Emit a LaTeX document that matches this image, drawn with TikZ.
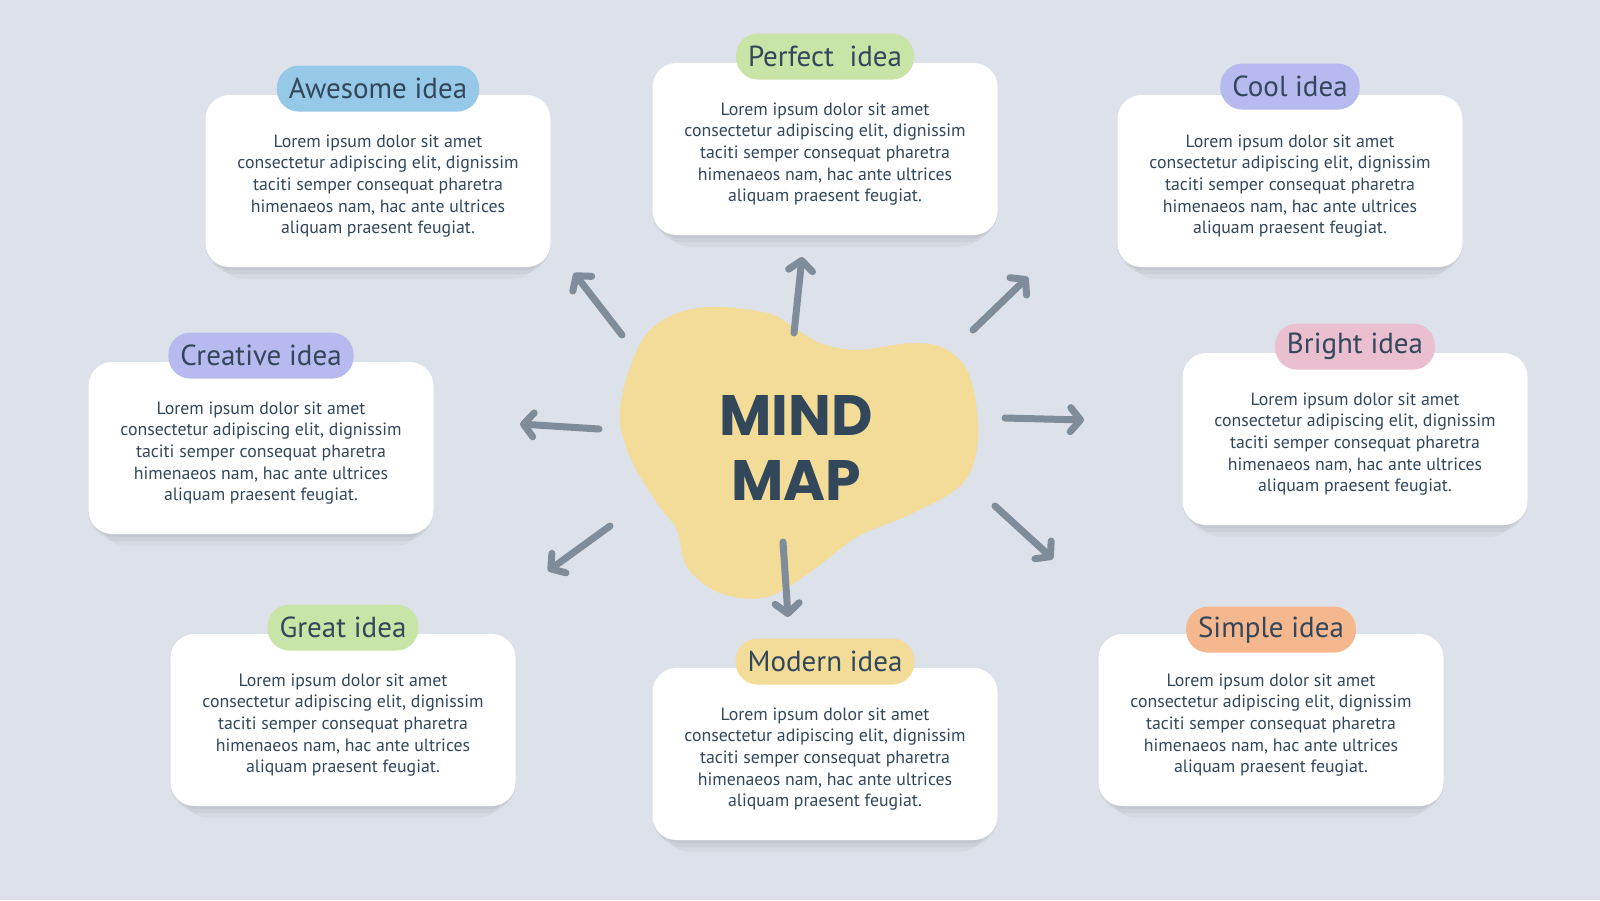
\documentclass[tikz,border=0pt]{standalone}
\usepackage{fontspec}
\setmainfont{PT Sans}
\newfontfamily\headfont{Poppins}
\usetikzlibrary{arrows.meta}
\usetikzlibrary{positioning}
\usetikzlibrary{shadows}

\definecolor{bgcol}{HTML}{DDE1E9}
\definecolor{inkcol}{HTML}{33475B}
\definecolor{arrowcol}{HTML}{7F8D9A}
\definecolor{blobcol}{HTML}{F2DC98}
\definecolor{tagblue}{HTML}{96C9E7}
\definecolor{taggreen}{HTML}{C8E4A7}
\definecolor{taglilac}{HTML}{B7BAEE}
\definecolor{tagpink}{HTML}{EABFD0}
\definecolor{tagorange}{HTML}{F5B78E}
\definecolor{tagyellow}{HTML}{F2DC98}

% same filler text in every card
\newcommand\loremtext{Lorem ipsum dolor sit amet\\
  consectetur adipiscing elit, dignissim\\
  taciti semper consequat pharetra\\
  himenaeos nam, hac ante ultrices\\
  aliquam praesent feugiat.}

\tikzset {
  % white card
  card/.style = {
    fill = white,
    rounded corners = 12pt,
    minimum width = 172.5pt,
    minimum height = 86pt,
    general shadow = {shadow yshift = -10pt, shadow scale = 0.92,
      opacity = 0.035, fill = black},
    general shadow = {shadow yshift = -5pt, shadow scale = 0.97,
      opacity = 0.04, fill = black},
    general shadow = {shadow yshift = -1.5pt,
      opacity = 0.04, fill = black}
  },
  % text inside a card
  cardtext/.style = {
    align = center,
    text = inkcol,
    font = \fontsize{8.9}{10.8}\selectfont
  },
  % coloured label on top of a card
  ideatag/.style = {
    rounded corners = 11pt,
    minimum height = 23pt,
    inner xsep = 6pt,
    text = inkcol,
    font = \fontsize{14.5}{18}\selectfont
  },
  % arrow going out of the blob
  arr/.style = {
    draw = arrowcol,
    line width = 3.5pt,
    line cap = round,
    -{Straight Barb[length = 5pt, width = 12pt, round]}
  }
}

\begin{document}
\begin{tikzpicture}[x = 0.5pt, y = -0.5pt]
  \fill[bgcol] (0,0) rectangle (1600,900);
  \useasboundingbox (0,0) rectangle (1600,900);

  % central blob
  \fill[blobcol] plot[smooth cycle, tension = 0.6] coordinates {
    (620,410) (630,457) (657,503) (677,530) (687,567) (720,593)
    (767,597) (813,570) (857,537) (913,513) (963,483) (978,437)
    (970,377) (947,350) (913,343) (857,350) (820,343) (793,327)
    (767,313) (707,307) (663,320) (637,350)};
  \node[font = \headfont\bfseries\fontsize{28.5}{32.5}\selectfont,
    text = inkcol, align = center] (map) at (796,448) {MIND\\MAP};

  % cards
  \node[card] (awesome) at (378,181) {};
  \node[card] (perfect) at (825,149) {};
  \node[card] (cool) at (1290,181) {};
  \node[card] (creative) at (261,448) {};
  \node[card] (bright) at (1355,439) {};
  \node[card] (great) at (343,720) {};
  \node[card] (modern) at (825,754) {};
  \node[card] (simple) at (1271,720) {};

  \node[cardtext] (awesome-text) at ([yshift = -2.5pt] awesome.center) {\loremtext};
  \node[cardtext] (perfect-text) at ([yshift = -2.5pt] perfect.center) {\loremtext};
  \node[cardtext] (cool-text) at ([yshift = -2.5pt] cool.center) {\loremtext};
  \node[cardtext] (creative-text) at ([yshift = -2.5pt] creative.center) {\loremtext};
  \node[cardtext] (bright-text) at ([yshift = -2.5pt] bright.center) {\loremtext};
  \node[cardtext] (great-text) at ([yshift = -2.5pt] great.center) {\loremtext};
  \node[cardtext] (modern-text) at ([yshift = -2.5pt] modern.center) {\loremtext};
  \node[cardtext] (simple-text) at ([yshift = -2.5pt] simple.center) {\loremtext};

  % labels
  \node[ideatag, fill = tagblue] (awesome-tag)
    at ([yshift = 3pt] awesome.north) {Awesome idea};
  \node[ideatag, fill = taggreen] (perfect-tag)
    at ([yshift = 3pt] perfect.north) {Perfect\ \ idea};
  \node[ideatag, fill = taglilac] (cool-tag)
    at ([yshift = 4pt] cool.north) {Cool idea};
  \node[ideatag, fill = taglilac] (creative-tag)
    at ([yshift = 3pt] creative.north) {Creative idea};
  \node[ideatag, fill = tagpink] (bright-tag)
    at ([yshift = 3pt] bright.north) {Bright idea};
  \node[ideatag, fill = taggreen] (great-tag)
    at ([yshift = 3pt] great.north) {Great idea};
  \node[ideatag, fill = tagyellow] (modern-tag)
    at ([yshift = 3pt] modern.north) {Modern idea};
  \node[ideatag, fill = tagorange] (simple-tag)
    at ([yshift = 2pt] simple.north) {Simple idea};

  % arrow ends
  \coordinate (awesome-from) at (622,335);
  \coordinate (awesome-to) at (574,273);
  \coordinate (perfect-from) at (794,333);
  \coordinate (perfect-to) at (802,257);
  \coordinate (cool-from) at (973,330);
  \coordinate (cool-to) at (1028,277);
  \coordinate (creative-from) at (599,429);
  \coordinate (creative-to) at (520,424);
  \coordinate (bright-from) at (1005,418);
  \coordinate (bright-to) at (1084,420);
  \coordinate (great-from) at (610,526);
  \coordinate (great-to) at (548,571);
  \coordinate (modern-from) at (783,542);
  \coordinate (modern-to) at (788,617);
  \coordinate (simple-from) at (995,506);
  \coordinate (simple-to) at (1053,559);

  \draw[arr] (awesome-from) -- (awesome-to);
  \draw[arr] (perfect-from) -- (perfect-to);
  \draw[arr] (cool-from) -- (cool-to);
  \draw[arr] (creative-from) -- (creative-to);
  \draw[arr] (bright-from) -- (bright-to);
  \draw[arr] (great-from) -- (great-to);
  \draw[arr] (modern-from) -- (modern-to);
  \draw[arr] (simple-from) -- (simple-to);
\end{tikzpicture}
\end{document}
